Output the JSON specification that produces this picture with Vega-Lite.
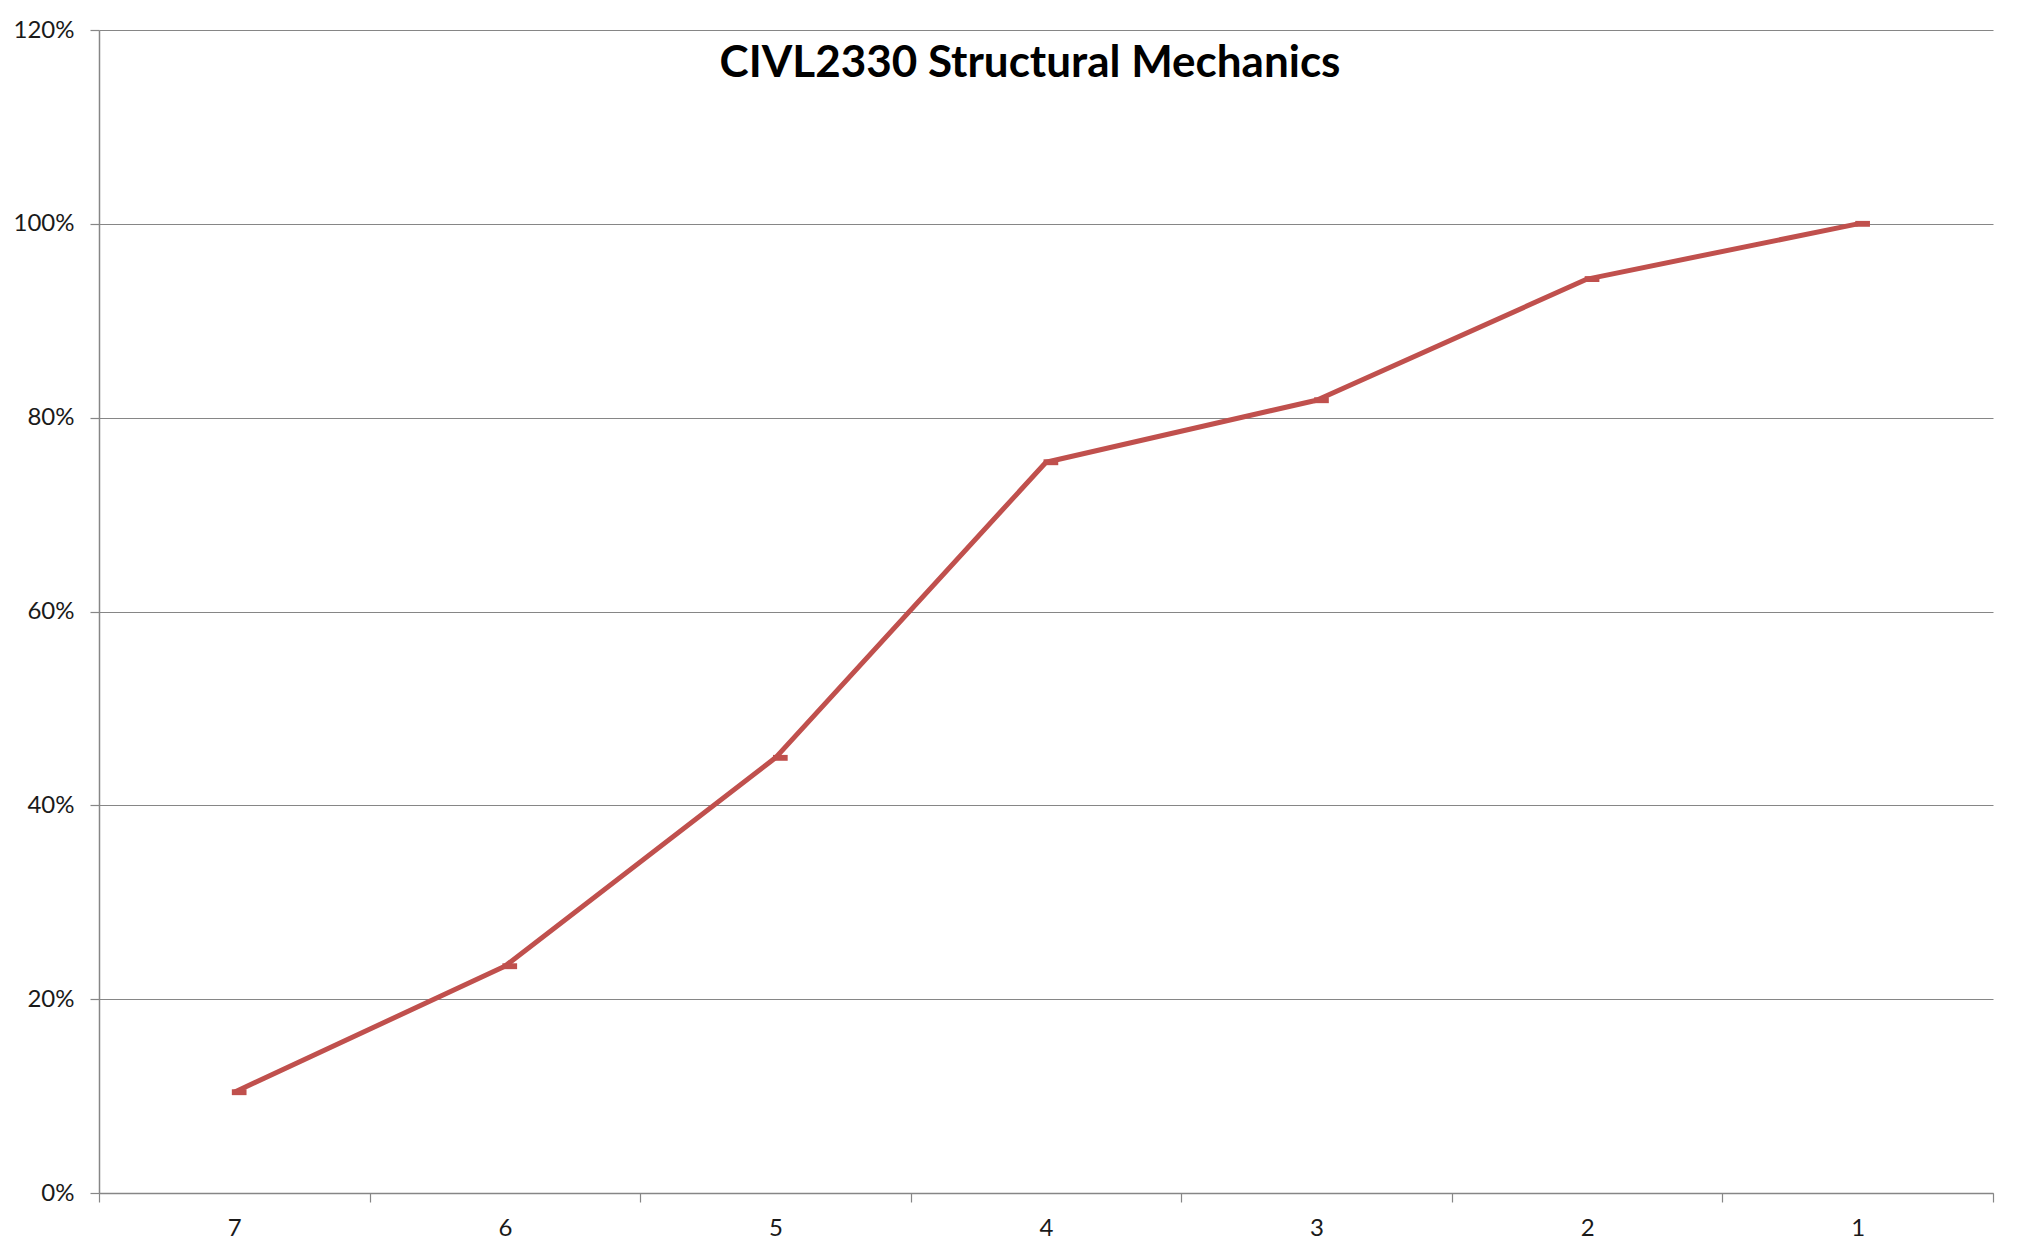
{
  "$schema": "https://vega.github.io/schema/vega-lite/v6.json",
  "autosize": {"type": "none"},
  "width": 1894,
  "height": 1163,
  "padding": {"left": 99, "top": 30, "right": 40, "bottom": 55},
  "background": "white",
  "title": {
    "text": "CIVL2330 Structural Mechanics",
    "font": "Lato",
    "fontSize": 44,
    "fontWeight": "bold",
    "color": "black",
    "anchor": "middle",
    "frame": "group",
    "baseline": "alphabetic",
    "offset": -103,
    "dx": -16
  },
  "config": {
    "view": {"stroke": null},
    "axis": {
      "labelFont": "Lato",
      "labelColor": "#1a1a1a",
      "domainColor": "#868686",
      "tickColor": "#868686",
      "gridColor": "#868686",
      "gridWidth": 1,
      "domainWidth": 1.5,
      "tickWidth": 1.2,
      "titleFontSize": 0
    }
  },
  "data": {
    "values": [
      {"category": "7", "value": 0.104},
      {"category": "6", "value": 0.234},
      {"category": "5", "value": 0.449},
      {"category": "4", "value": 0.754},
      {"category": "3", "value": 0.818},
      {"category": "2", "value": 0.943},
      {"category": "1", "value": 1.0}
    ]
  },
  "encoding": {
    "x": {
      "field": "category",
      "type": "ordinal",
      "sort": ["7", "6", "5", "4", "3", "2", "1"],
      "scale": {"paddingInner": 0, "paddingOuter": 0},
      "axis": {
        "title": null,
        "labelAngle": 0,
        "labelFontSize": 24,
        "labelPadding": 14,
        "tickSize": 9,
        "tickBand": "extent",
        "grid": false
      }
    },
    "y": {
      "field": "value",
      "type": "quantitative",
      "scale": {"domain": [0, 1.2], "nice": false},
      "axis": {
        "title": null,
        "values": [0, 0.2, 0.4, 0.6, 0.8, 1.0, 1.2],
        "format": ".0%",
        "labelFontSize": 24,
        "labelPadding": 16,
        "tickSize": 9,
        "grid": true
      }
    }
  },
  "layer": [
    {
      "mark": {"type": "line", "color": "#C0504D", "strokeWidth": 5, "strokeJoin": "round"}
    },
    {
      "mark": {
        "type": "point",
        "shape": "M-0.2,-0.24H1V0.24H-0.2Z",
        "size": 600,
        "filled": true,
        "color": "#C0504D",
        "opacity": 1
      }
    }
  ]
}
